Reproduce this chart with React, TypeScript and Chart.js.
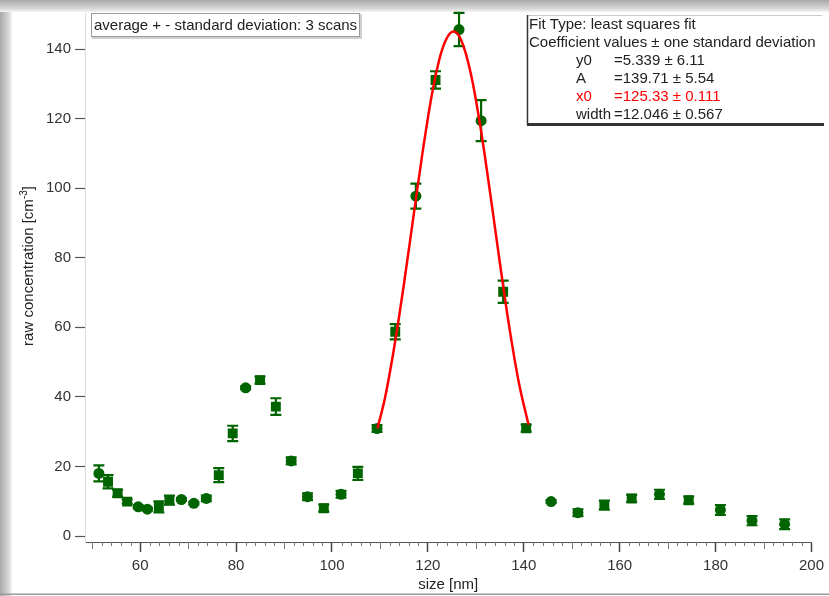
import React, { useEffect, useRef } from 'react';
import { Chart, registerables } from 'chart.js';

Chart.register(...registerables);

// ---- data ----
const sizes = [51.4, 53.3, 55.3, 57.3, 59.6, 61.5, 63.9, 66.1, 68.6, 71.2, 73.8, 76.4, 79.3, 82.0, 85.0, 88.3, 91.5, 94.9, 98.3, 101.9, 105.4, 109.4, 113.2, 117.5, 121.6, 126.5, 131.1, 135.7, 140.5, 145.7, 151.3, 156.8, 162.5, 168.3, 174.4, 181.0, 187.6, 194.4];
const concentrations = [18.0, 15.6, 12.3, 9.9, 8.4, 7.7, 8.4, 10.3, 10.5, 9.4, 10.8, 17.5, 29.5, 42.6, 44.8, 37.2, 21.6, 11.3, 8.0, 12.0, 18.0, 30.9, 58.7, 97.7, 131.1, 145.6, 119.4, 70.2, 31.0, 9.9, 6.7, 8.9, 10.8, 12.0, 10.3, 7.5, 4.4, 3.4];
const stdDevs = [2.3, 1.9, 1.0, 0.6, 0.4, 0.4, 1.6, 1.3, 0.4, 0.4, 0.8, 2.0, 2.2, 0.4, 1.0, 2.4, 1.0, 1.0, 1.0, 1.0, 1.9, 1.0, 2.2, 3.6, 2.5, 4.8, 5.9, 3.2, 1.0, 0.4, 1.0, 1.3, 1.0, 1.3, 1.0, 1.4, 1.3, 1.4];
const markerShapes = ['circle', 'rect', 'rect', 'rect', 'circle', 'circle', 'rect', 'rect', 'circle', 'circle', 'circle', 'rect', 'rect', 'circle', 'rect', 'rect', 'circle', 'circle', 'rect', 'circle', 'rect', 'circle', 'rect', 'circle', 'rect', 'circle', 'circle', 'rect', 'rect', 'circle', 'circle', 'rect', 'rect', 'circle', 'rect', 'circle', 'circle', 'circle'];

// Gaussian fit curve
const fitSizes = [109.5, 111, 113, 115, 117, 119, 121, 123, 125.33, 127, 129, 131, 133, 135, 137, 139, 141];
const fitValues = [31.0, 39.3, 54.4, 72.3, 91.9, 111.3, 128.1, 139.9, 145.0, 142.4, 132.7, 117.3, 98.5, 78.7, 59.9, 43.9, 32.0];

const yTickValues = [0, 20, 40, 60, 80, 100, 120, 140];
const xLabelValues = [60, 80, 100, 120, 140, 160, 180, 200];

const legendText = 'average + - standard deviation: 3 scans';
const fitInfoLines = [
  'Fit Type: least squares fit',
  'Coefficient values \u00b1 one standard deviation',
];
const coefNames = ['y0', 'A', 'x0', 'width'];
const coefValues = ['=5.339 \u00b1 6.11', '=139.71 \u00b1 5.54', '=125.33 \u00b1 0.111', '=12.046 \u00b1 0.567'];

const GREEN = 'rgb(0,100,0)';
const RED = '#ff0000';
const FONT = '"Liberation Sans", Arial, sans-serif';
const TEXT = '#222';

const framePlugin = {
  id: 'frame',
  beforeDraw(chart: any) {
    const { ctx, width, height } = chart;
    ctx.save();
    ctx.fillStyle = '#ffffff';
    ctx.fillRect(0, 0, width, height);
    let g = ctx.createLinearGradient(0, 0, 0, 12);
    g.addColorStop(0, '#a9a9a9');
    g.addColorStop(0.7, '#d6d6d6');
    g.addColorStop(1, '#f4f4f4');
    ctx.fillStyle = g;
    ctx.fillRect(0, 0, width, 12);
    g = ctx.createLinearGradient(0, 0, 12, 0);
    g.addColorStop(0, '#a9a9a9');
    g.addColorStop(0.7, '#d6d6d6');
    g.addColorStop(1, '#f4f4f4');
    ctx.fillStyle = g;
    ctx.fillRect(0, 12, 12, height - 12);
    ctx.fillStyle = '#9a9a9a';
    ctx.fillRect(0, height - 2.5, width, 1.5);
    ctx.restore();
  },
};

const errorBarPlugin = {
  id: 'errorBars',
  beforeDatasetsDraw(chart: any) {
    const { ctx } = chart;
    const ys = chart.scales.y;
    const meta = chart.getDatasetMeta(1);
    ctx.save();
    ctx.strokeStyle = GREEN;
    ctx.lineWidth = 2.2;
    meta.data.forEach((pt: any, i: number) => {
      const top = ys.getPixelForValue(concentrations[i] + stdDevs[i]);
      const bot = ys.getPixelForValue(concentrations[i] - stdDevs[i]);
      const x = pt.x;
      ctx.beginPath();
      ctx.moveTo(x, top);
      ctx.lineTo(x, bot);
      ctx.moveTo(x - 5.5, top);
      ctx.lineTo(x + 5.5, top);
      ctx.moveTo(x - 5.5, bot);
      ctx.lineTo(x + 5.5, bot);
      ctx.stroke();
    });
    ctx.restore();
  },
};

const annotationPlugin = {
  id: 'annotations',
  afterDraw(chart: any) {
    const { ctx, chartArea } = chart;
    const xs = chart.scales.x;
    ctx.save();
    // minor / medium ticks on x axis
    ctx.strokeStyle = '#777';
    ctx.lineWidth = 1;
    for (let v = 50; v < 200; v += 2) {
      if (v % 20 === 0) continue;
      const len = v % 10 === 0 ? 7 : 4;
      const px = Math.round(xs.getPixelForValue(v)) + 0.5;
      ctx.beginPath();
      ctx.moveTo(px, chartArea.bottom);
      ctx.lineTo(px, chartArea.bottom + len);
      ctx.stroke();
    }

    // y title with superscript
    ctx.save();
    ctx.translate(29, 266);
    ctx.rotate(-Math.PI / 2);
    ctx.fillStyle = TEXT;
    ctx.textBaseline = 'middle';
    const main = 'raw concentration [cm';
    const sup = '-3';
    const end = ']';
    ctx.font = `15px ${FONT}`;
    const w1 = ctx.measureText(main).width;
    const w3 = ctx.measureText(end).width;
    ctx.font = `10px ${FONT}`;
    const w2 = ctx.measureText(sup).width;
    let x0 = -(w1 + w2 + w3) / 2;
    ctx.font = `15px ${FONT}`;
    ctx.textAlign = 'left';
    ctx.fillText(main, x0, 0);
    ctx.font = `10px ${FONT}`;
    ctx.fillText(sup, x0 + w1, -5);
    ctx.font = `15px ${FONT}`;
    ctx.fillText(end, x0 + w1 + w2, 0);
    ctx.restore();

    // x title
    ctx.fillStyle = TEXT;
    ctx.font = `15px ${FONT}`;
    ctx.textAlign = 'center';
    ctx.textBaseline = 'middle';
    ctx.fillText('size [nm]', (chartArea.left + chartArea.right) / 2, 585);

    // legend box (top-left)
    ctx.fillStyle = '#d0d0d0';
    ctx.fillRect(92, 14, 270, 25);
    ctx.fillStyle = '#ffffff';
    ctx.fillRect(91, 13, 269, 24);
    ctx.strokeStyle = '#9a9a9a';
    ctx.lineWidth = 1;
    ctx.strokeRect(91.5, 13.5, 268, 23);
    ctx.fillStyle = TEXT;
    ctx.textAlign = 'left';
    ctx.font = `15px ${FONT}`;
    ctx.fillText(legendText, 94, 25.5);

    // fit info box (top-right)
    ctx.fillStyle = '#ffffff';
    ctx.fillRect(527, 15, 297, 110);
    ctx.strokeStyle = '#c8c8c8';
    ctx.lineWidth = 1;
    ctx.beginPath();
    ctx.moveTo(527, 15.5);
    ctx.lineTo(822, 15.5);
    ctx.stroke();
    ctx.strokeStyle = '#333';
    ctx.lineWidth = 1.5;
    ctx.beginPath();
    ctx.moveTo(527.5, 15);
    ctx.lineTo(527.5, 125);
    ctx.stroke();
    ctx.fillStyle = '#333';
    ctx.fillRect(527, 123, 297, 3);

    ctx.font = `15px ${FONT}`;
    ctx.fillStyle = TEXT;
    ctx.fillText(fitInfoLines[0], 529, 25);
    ctx.fillText(fitInfoLines[1], 529, 43);
    coefNames.forEach((n, i) => {
      ctx.fillStyle = n === 'x0' ? RED : TEXT;
      ctx.fillText(n, 576, 61 + 18 * i);
      ctx.fillText(coefValues[i], 614, 61 + 18 * i);
    });
    ctx.restore();
  },
};

export default function App() {
  const canvasRef = useRef<HTMLCanvasElement | null>(null);

  useEffect(() => {
    if (!canvasRef.current) return;
    const chart = new Chart(canvasRef.current, {
      type: 'scatter',
      data: {
        datasets: [
          {
            type: 'line',
            label: 'fit',
            data: fitSizes.map((x, i) => ({ x, y: fitValues[i] })),
            borderColor: RED,
            borderWidth: 2.5,
            pointRadius: 0,
            showLine: true,
            fill: false,
            cubicInterpolationMode: 'monotone',
            order: 0,
          },
          {
            label: 'average',
            data: sizes.map((x, i) => ({ x, y: concentrations[i] })),
            backgroundColor: GREEN,
            borderColor: GREEN,
            borderWidth: 0,
            pointStyle: markerShapes as any,
            pointRadius: markerShapes.map((s) => (s === 'rect' ? 7 : 5.5)),
            order: 1,
          },
        ],
      } as any,
      options: {
        animation: false,
        responsive: false,
        devicePixelRatio: 1,
        layout: { padding: { top: 13, right: 14, left: 0, bottom: 0 } },
        plugins: {
          legend: { display: false },
          tooltip: { enabled: false },
          title: { display: false },
        },
        scales: {
          x: {
            type: 'linear',
            min: 48.5,
            max: 200,
            afterFit: (scale: any) => {
              scale.height = 54;
            },
            afterBuildTicks: (scale: any) => {
              const t = [];
              for (let v = 50; v <= 200; v += 2) t.push({ value: v });
              scale.ticks = t;
            },
            border: { display: true, color: '#555', width: 1 },
            grid: {
              drawOnChartArea: false,
              drawTicks: true,
              tickLength: 10,
              tickWidth: 1.5,
              tickColor: (c: any) => (c.tick && xLabelValues.includes(c.tick.value) ? '#444' : 'rgba(0,0,0,0)'),
            },
            ticks: {
              autoSkip: false,
              maxRotation: 0,
              padding: 5,
              color: '#333',
              font: { family: FONT, size: 15 },
              callback: (v: any) => (xLabelValues.includes(Number(v)) ? String(v) : ''),
            },
          },
          y: {
            type: 'linear',
            min: -1.72,
            max: 150.35,
            afterFit: (scale: any) => {
              scale.width = 85;
            },
            afterBuildTicks: (scale: any) => {
              scale.ticks = yTickValues.map((v) => ({ value: v }));
            },
            border: { display: true, color: '#dcdcdc', width: 1 },
            grid: {
              drawOnChartArea: false,
              drawTicks: true,
              tickLength: 10,
              tickWidth: 1.2,
              tickColor: '#555',
            },
            ticks: {
              padding: 4,
              color: '#333',
              font: { family: FONT, size: 15 },
            },
          },
        },
      },
      plugins: [framePlugin, errorBarPlugin, annotationPlugin],
    } as any);
    return () => chart.destroy();
  }, []);

  return (
    <div style={{ position: 'absolute', left: 0, top: 0, width: 829, height: 596 }}>
      <canvas ref={canvasRef} width={829} height={596} style={{ display: 'block', width: 829, height: 596 }} />
    </div>
  );
}
